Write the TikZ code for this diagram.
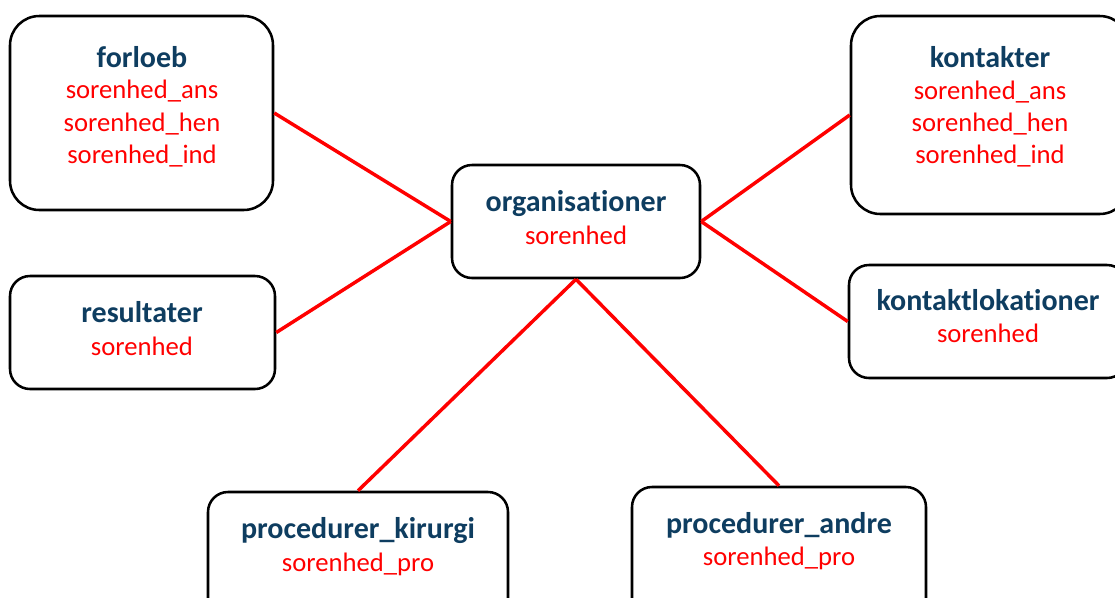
\documentclass[tikz,border=0pt]{standalone}
\usepackage{fontspec}
\setmainfont[Ligatures=NoCommon]{Carlito}
\definecolor{titleblue}{HTML}{0E3D60}
\definecolor{linkred}{HTML}{FF0000}
\begin{document}
\begin{tikzpicture}[x=0.75pt,y=-0.75pt,
  box/.style={draw=black,line width=1.9pt,fill=white,inner sep=0pt},
  bigbox/.style={box,rounded corners=22pt},
  smallbox/.style={box,rounded corners=15pt},
  ttl/.style={font=\fontsize{22.5}{26}\selectfont\bfseries,text=titleblue,inner sep=0pt,anchor=base},
  fld/.style={font=\fontsize{20}{24}\selectfont,text=linkred,inner sep=0pt,anchor=base},
  link/.style={draw=linkred,line width=2.6pt}]
\useasboundingbox (0,0) rectangle (1115,597);
\clip (0,0) rectangle (1115,597);
\fill[white] (0,0) rectangle (1115,597);
% boxes
\node[bigbox,minimum width=197.25pt,minimum height=145.5pt] (forloeb) at (141.5,113) {};
\node[bigbox,minimum width=208.5pt,minimum height=148.5pt] (kontakter) at (990,115) {};
\node[smallbox,minimum width=186pt,minimum height=84.75pt] (org) at (576,221.5) {};
\node[smallbox,minimum width=198.75pt,minimum height=84.75pt] (result) at (142.5,332.5) {};
\node[smallbox,minimum width=208.5pt,minimum height=84.75pt] (kontlok) at (988,321.5) {};
\node[smallbox,minimum width=225pt,minimum height=111pt] (kirurgi) at (358,566) {};
\node[smallbox,minimum width=220.5pt,minimum height=111pt] (andre) at (779,561) {};
% links
\draw[link] (forloeb.east) -- (org.west);
\draw[link] (result.east) -- (org.west);
\draw[link] (kontakter.west) -- (org.east);
\draw[link] (kontlok.west) -- (org.east);
\draw[link] (org.south) -- (kirurgi.north);
\draw[link] (org.south) -- (andre.north);
% texts
\node[ttl] (t1) at (142,67) {forloeb};
\node[fld] (f1a) at (142,98) {sorenhed\_ans};
\node[fld] (f1b) at (142,131) {sorenhed\_hen};
\node[fld] (f1c) at (142,163) {sorenhed\_ind};
\node[ttl] (t2) at (990,67) {kontakter};
\node[fld] (f2a) at (990,99) {sorenhed\_ans};
\node[fld] (f2b) at (990,131) {sorenhed\_hen};
\node[fld] (f2c) at (990,163) {sorenhed\_ind};
\node[ttl] (t3) at (576,211) {organisationer};
\node[fld] (f3) at (576,244) {sorenhed};
\node[ttl] (t4) at (142,322) {resultater};
\node[fld] (f4) at (142,355) {sorenhed};
\node[ttl] (t5) at (988,310) {kontaktlokationer};
\node[fld] (f5) at (988,342) {sorenhed};
\node[ttl] (t6) at (358,538) {procedurer\_kirurgi};
\node[fld] (f6) at (358,571) {sorenhed\_pro};
\node[ttl] (t7) at (779,533) {procedurer\_andre};
\node[fld] (f7) at (779,565) {sorenhed\_pro};
\end{tikzpicture}
\end{document}
